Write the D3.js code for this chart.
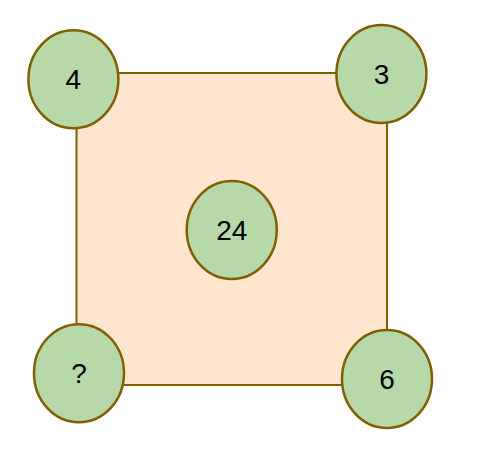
<!DOCTYPE html>
<html>
<head>
<meta charset="utf-8">
<script src="https://cdn.jsdelivr.net/npm/d3@7"></script>
<style>
  body { margin: 0; background: #fff; }
</style>
</head>
<body>
<div id="vis"></div>
<script>
// Etiquetas de los nodos (esquinas + centro)
const LABELS = ["4", "3", "24", "?", "6"];
// Posicion logica de cada nodo dentro del cuadrado (0 = izq/arriba, 1 = der/abajo)
const GRID_X = [-0.01, 0.982, 0.5, 0.008, 1.0];
const GRID_Y = [0.02, 0.003, 0.503, 0.962, 0.981];

const WIDTH = 478;
const HEIGHT = 459;

const SVG = d3.select("#vis").append("svg")
  .attr("width", WIDTH)
  .attr("height", HEIGHT);

// escalas que llevan la grilla logica al cuadrado en pixeles
const xScale = d3.scaleLinear().domain([0, 1]).range([76.5, 387]);
const yScale = d3.scaleLinear().domain([0, 1]).range([73, 385]);

const nodes = LABELS.map((label, i) => ({ label, gx: GRID_X[i], gy: GRID_Y[i] }));

// el cuadrado
SVG.append("rect")
  .attr("x", xScale(0))
  .attr("y", yScale(0))
  .attr("width", xScale(1) - xScale(0))
  .attr("height", yScale(1) - yScale(0))
  .attr("fill", "#fde5cf")
  .attr("stroke", "#7f6000")
  .attr("stroke-width", 2);

const groups = SVG.selectAll("g.node")
  .data(nodes)
  .join("g")
  .attr("class", "node")
  .attr("transform", d => `translate(${xScale(d.gx)}, ${yScale(d.gy)})`);

groups.append("ellipse")
  .attr("rx", 45)
  .attr("ry", 49)
  .attr("fill", "#b7d8a8")
  .attr("stroke", "#7f6000")
  .attr("stroke-width", 2.5);

groups.append("text")
  .attr("text-anchor", "middle")
  .attr("dy", "0.36em")
  .attr("font-family", "Liberation Sans, Arial, sans-serif")
  .attr("font-size", 28)
  .attr("fill", "#000")
  .text(d => d.label);
</script>
</body>
</html>
